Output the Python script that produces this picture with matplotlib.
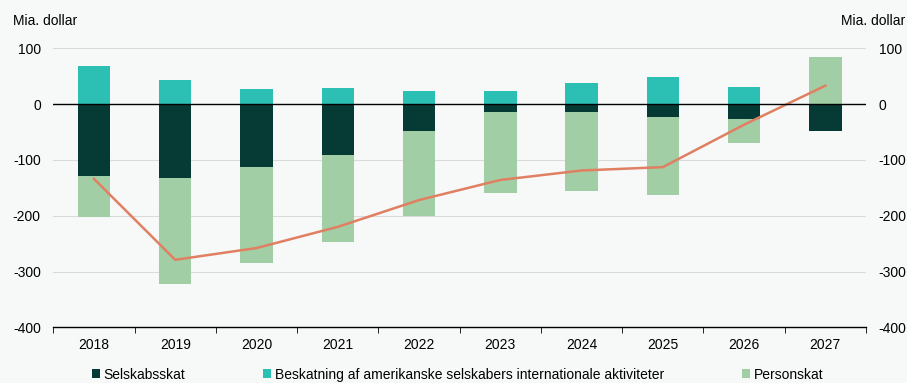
import matplotlib
matplotlib.use("Agg")
import matplotlib.pyplot as plt
import numpy as np
from matplotlib.patches import Patch

plt.rcParams["font.family"] = ["Liberation Sans", "DejaVu Sans"]
plt.rcParams["font.size"] = 10
plt.rcParams["axes.unicode_minus"] = False

# ── Data (mia. dollar) ────────────────────────────────────────────────────────

years = ["2018", "2019", "2020", "2021", "2022", "2023", "2024", "2025", "2026", "2027"]
selskabsskat = [-128, -132, -112, -91, -49, -15, -15, -23, -27, -48]
internationale = [69, 43, 27, 29, 24, 24, 37, 49, 30, 0]
personskat = [-75, -190, -172, -157, -151, -145, -141, -140, -42, 84]
total = [-134, -279, -258, -220, -172, -136, -119, -113, -37, 33]

labels = [
    "Selskabsskat",
    "Beskatning af amerikanske selskabers internationale aktiviteter",
    "Personskat",
]
colors = ["#063A35", "#2CC0B4", "#A2CEA5"]
LINE_COLOR = "#E07F62"
BG = "#F7F9F9"

# ── Plot ──────────────────────────────────────────────────────────────────────

fig = plt.figure(figsize=(9.07, 3.83), dpi=100, facecolor=BG)
ax = fig.add_axes([0.0588, 0.1454, 0.8960, 0.7286], facecolor=BG)

x = np.arange(len(years))
pos_base = np.zeros(len(years))
neg_base = np.zeros(len(years))
for vals, color in zip([selskabsskat, internationale, personskat], colors):
    v = np.array(vals, dtype=float)
    bottom = np.where(v >= 0, pos_base, neg_base)
    ax.bar(x, v, bottom=bottom, width=0.4, color=color, zorder=3)
    pos_base += np.where(v >= 0, v, 0)
    neg_base += np.where(v < 0, v, 0)

ax.plot(x, total, color=LINE_COLOR, lw=1.8, zorder=4)

ax.set_xlim(-0.5, len(years) - 0.5)
ax.set_ylim(-400, 100)
ax.set_yticks([-400, -300, -200, -100, 0, 100])
for yv in [-300, -200, -100, 100]:
    ax.axhline(yv, color="#DADADA", lw=0.8, zorder=1)
ax.axhline(0, color="black", lw=1.0, zorder=5)

for s in ["top", "left", "right"]:
    ax.spines[s].set_visible(False)
ax.spines["bottom"].set_color("black")
ax.spines["bottom"].set_linewidth(1.0)

ax.set_xticks(x)
ax.set_xticklabels(years)
ax.set_xticks(np.arange(-0.5, len(years)), minor=True)
ax.tick_params(axis="x", which="major", length=0, pad=8)
ax.tick_params(axis="x", which="minor", length=4, direction="out", color="black")
ax.tick_params(axis="y", length=0, pad=9, labelleft=True, labelright=True)

fig.text(0.014, 0.946, "Mia. dollar", ha="left", va="center")
fig.text(0.998, 0.946, "Mia. dollar", ha="right", va="center")

handles = [Patch(facecolor=c, edgecolor="none") for c in colors]
fig.legend(
    handles, labels, ncol=3, loc="center left", bbox_to_anchor=(0.101, 0.022),
    frameon=False, handlelength=0.6, handleheight=0.6, handletextpad=0.25,
    columnspacing=5.6, borderaxespad=0, borderpad=0,
)

fig.savefig("out.png", dpi=100, facecolor=BG)
plt.close(fig)
